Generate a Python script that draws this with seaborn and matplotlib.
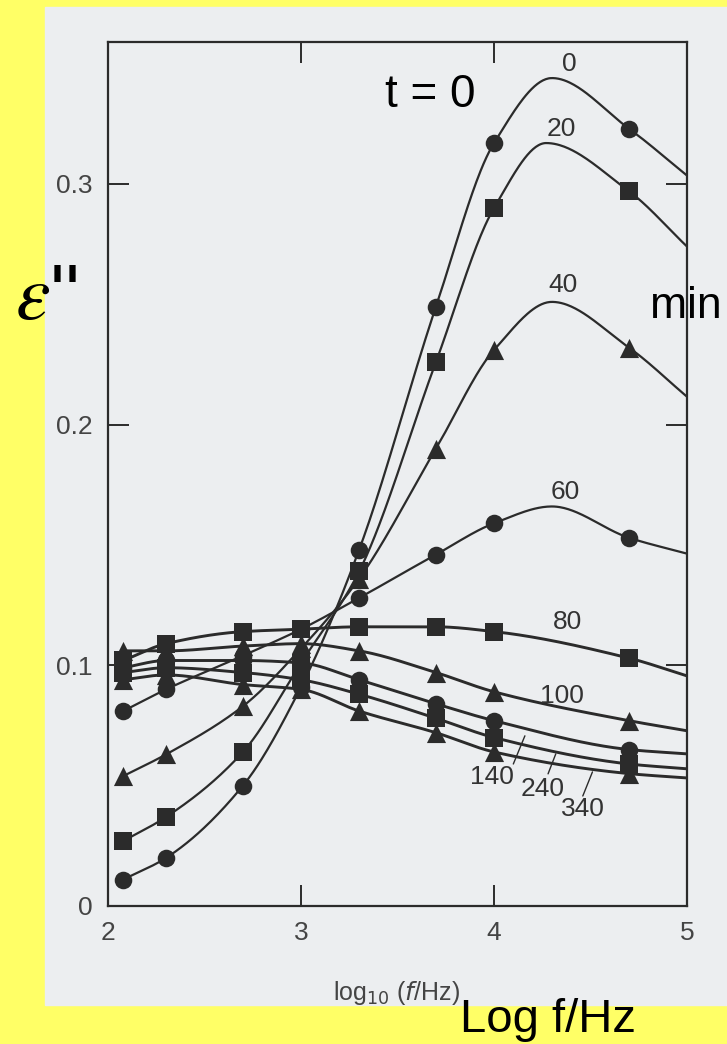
import numpy as np
import pandas as pd
import matplotlib
matplotlib.use("Agg")
import matplotlib.pyplot as plt
from matplotlib.patches import Rectangle
import seaborn as sns

# ---- data ---------------------------------------------------------------
freq_hz = [120, 200, 500, 1000, 2000, 5000, 10000, 50000]
log_f = np.log10(freq_hz)

cure_min = [0, 20, 40, 60, 80, 100, 140, 240, 340]

eps_t0 = [0.011, 0.020, 0.050, 0.091, 0.148, 0.249, 0.317, 0.323]
eps_t20 = [0.027, 0.037, 0.064, 0.101, 0.139, 0.226, 0.290, 0.297]
eps_t40 = [0.054, 0.063, 0.083, 0.107, 0.136, 0.190, 0.231, 0.232]
eps_t60 = [0.081, 0.090, 0.104, 0.115, 0.128, 0.146, 0.159, 0.153]
eps_t80 = [0.102, 0.109, 0.114, 0.115, 0.116, 0.116, 0.114, 0.103]
eps_t100 = [0.106, 0.106, 0.108, 0.109, 0.106, 0.097, 0.089, 0.077]
eps_t140 = [0.099, 0.102, 0.102, 0.101, 0.094, 0.084, 0.077, 0.065]
eps_t240 = [0.097, 0.099, 0.097, 0.094, 0.088, 0.078, 0.070, 0.059]
eps_t340 = [0.094, 0.096, 0.092, 0.090, 0.081, 0.072, 0.064, 0.055]

# loss maxima of the early curves (log f, eps'')
peak_logf = [4.30, 4.27, 4.30, 4.30]
peak_eps = [0.344, 0.317, 0.251, 0.166]

# curve values where they meet the right-hand frame (log f = 5)
edge_eps = [0.3035, 0.274, 0.2116, 0.1464, 0.0956, 0.0728, 0.0632, 0.057, 0.0532]

series = [eps_t0, eps_t20, eps_t40, eps_t60, eps_t80,
          eps_t100, eps_t140, eps_t240, eps_t340]

# ---- styling ------------------------------------------------------------
marker_cycle = ["o", "s", "^"]
ink = "#2b2b2b"
paper = "#eceef0"
yellow = "#ffff66"

sns.set_theme(style="ticks")
plt.rcParams["font.family"] = ["Liberation Sans", "DejaVu Sans"]
plt.rcParams["mathtext.fontset"] = "stix"


def pchip(x, y, xn):
    """Shape-preserving cubic Hermite curve through (x, y)."""
    x = np.asarray(x, float)
    y = np.asarray(y, float)
    h = np.diff(x)
    d = np.diff(y) / h
    m = np.zeros_like(y)
    m[0], m[-1] = d[0], d[-1]
    for k in range(1, len(x) - 1):
        if d[k - 1] * d[k] > 0:
            w1 = 2 * h[k] + h[k - 1]
            w2 = h[k] + 2 * h[k - 1]
            m[k] = (w1 + w2) / (w1 / d[k - 1] + w2 / d[k])
    idx = np.clip(np.searchsorted(x, xn) - 1, 0, len(x) - 2)
    t = (xn - x[idx]) / h[idx]
    h00 = 2 * t**3 - 3 * t**2 + 1
    h10 = t**3 - 2 * t**2 + t
    h01 = -2 * t**3 + 3 * t**2
    h11 = t**3 - t**2
    return (h00 * y[idx] + h10 * h[idx] * m[idx]
            + h01 * y[idx + 1] + h11 * h[idx] * m[idx + 1])


fig = plt.figure(figsize=(7.27, 10.44), dpi=100, facecolor=yellow)
fig.patches.append(Rectangle((0.0619, 0.0374), 0.94, 0.956,
                             transform=fig.transFigure, color=paper, zorder=-5))

ax = fig.add_axes([0.1486, 0.1322, 0.7964, 0.8276])
ax.set_facecolor(paper)

for i, (t, eps) in enumerate(zip(cure_min, series)):
    kx = list(log_f)
    ky = list(eps)
    if i < len(peak_logf):
        kx.append(peak_logf[i])
        ky.append(peak_eps[i])
    kx.append(5.0)
    ky.append(edge_eps[i])
    order = np.argsort(kx)
    kx = np.array(kx)[order]
    ky = np.array(ky)[order]
    xs = np.linspace(kx[0], kx[-1], 400)
    curve = pd.DataFrame({"log_f": xs, "eps": pchip(kx, ky, xs)})
    lw = 1.6 if i < 4 else 2.1
    sns.lineplot(data=curve, x="log_f", y="eps", ax=ax, color=ink,
                 lw=lw, sort=False, zorder=3)
    pts = pd.DataFrame({"log_f": log_f, "eps": eps})
    mk = marker_cycle[i % 3]
    size = 190 if mk == "^" else 160
    sns.scatterplot(data=pts, x="log_f", y="eps", ax=ax, marker=mk, s=size,
                    color=ink, edgecolor=ink, linewidth=0, zorder=4)

# curve labels
lab_kw = dict(fontsize=19, color="#333333", ha="center", va="center", zorder=5)
ax.text(4.39, 0.350, "0", **lab_kw)
ax.text(4.35, 0.323, "20", **lab_kw)
ax.text(4.36, 0.258, "40", **lab_kw)
ax.text(4.37, 0.172, "60", **lab_kw)
ax.text(4.38, 0.118, "80", **lab_kw)
ax.text(4.35, 0.0873, "100", **lab_kw)
ax.text(3.99, 0.0536, "140", **lab_kw)
ax.text(4.25, 0.0486, "240", **lab_kw)
ax.text(4.46, 0.0403, "340", **lab_kw)
for (x0, y0, x1, y1) in [(4.10, 0.059, 4.16, 0.0707),
                         (4.28, 0.0549, 4.32, 0.0632),
                         (4.46, 0.0457, 4.51, 0.0557)]:
    ax.plot([x0, x1], [y0, y1], color=ink, lw=1.0, zorder=5)

ax.set_xlim(2, 5)
ax.set_ylim(0, 0.359)
ax.set_xticks([2, 3, 4, 5])
ax.set_xticklabels(["2", "3", "4", "5"])
ax.set_yticks([0, 0.1, 0.2, 0.3])
ax.set_yticklabels(["0", "0.1", "0.2", "0.3"])
ax.tick_params(direction="in", length=15, width=1.4, color=ink,
               top=True, right=True, labelsize=19, labelcolor="#444444")
ax.tick_params(axis="y", pad=11)
ax.tick_params(axis="x", pad=11)
ax.set_xlabel("")
ax.set_ylabel("")
for s in ax.spines.values():
    s.set_color(ink)
    s.set_linewidth(1.6)
    s.set_visible(True)

fig.text(0.546, 0.049, "log$_{10}$ ($f$/Hz)", fontsize=18, color="#444444",
         ha="center", va="center", math_fontfamily="dejavusans")
fig.text(0.754, 0.023, "Log f/Hz", fontsize=34, color="black",
         ha="center", va="center", zorder=10)
fig.text(0.5915, 0.909, "t = 0", fontsize=33, color="black",
         ha="center", va="center")
fig.text(0.944, 0.706, "min", fontsize=32, color="black",
         ha="center", va="center", zorder=10)
fig.text(0.063, 0.714, "$\\varepsilon$''", fontsize=56, color="black",
         ha="center", va="center")

fig.savefig("out.png", dpi=100, facecolor=yellow)
